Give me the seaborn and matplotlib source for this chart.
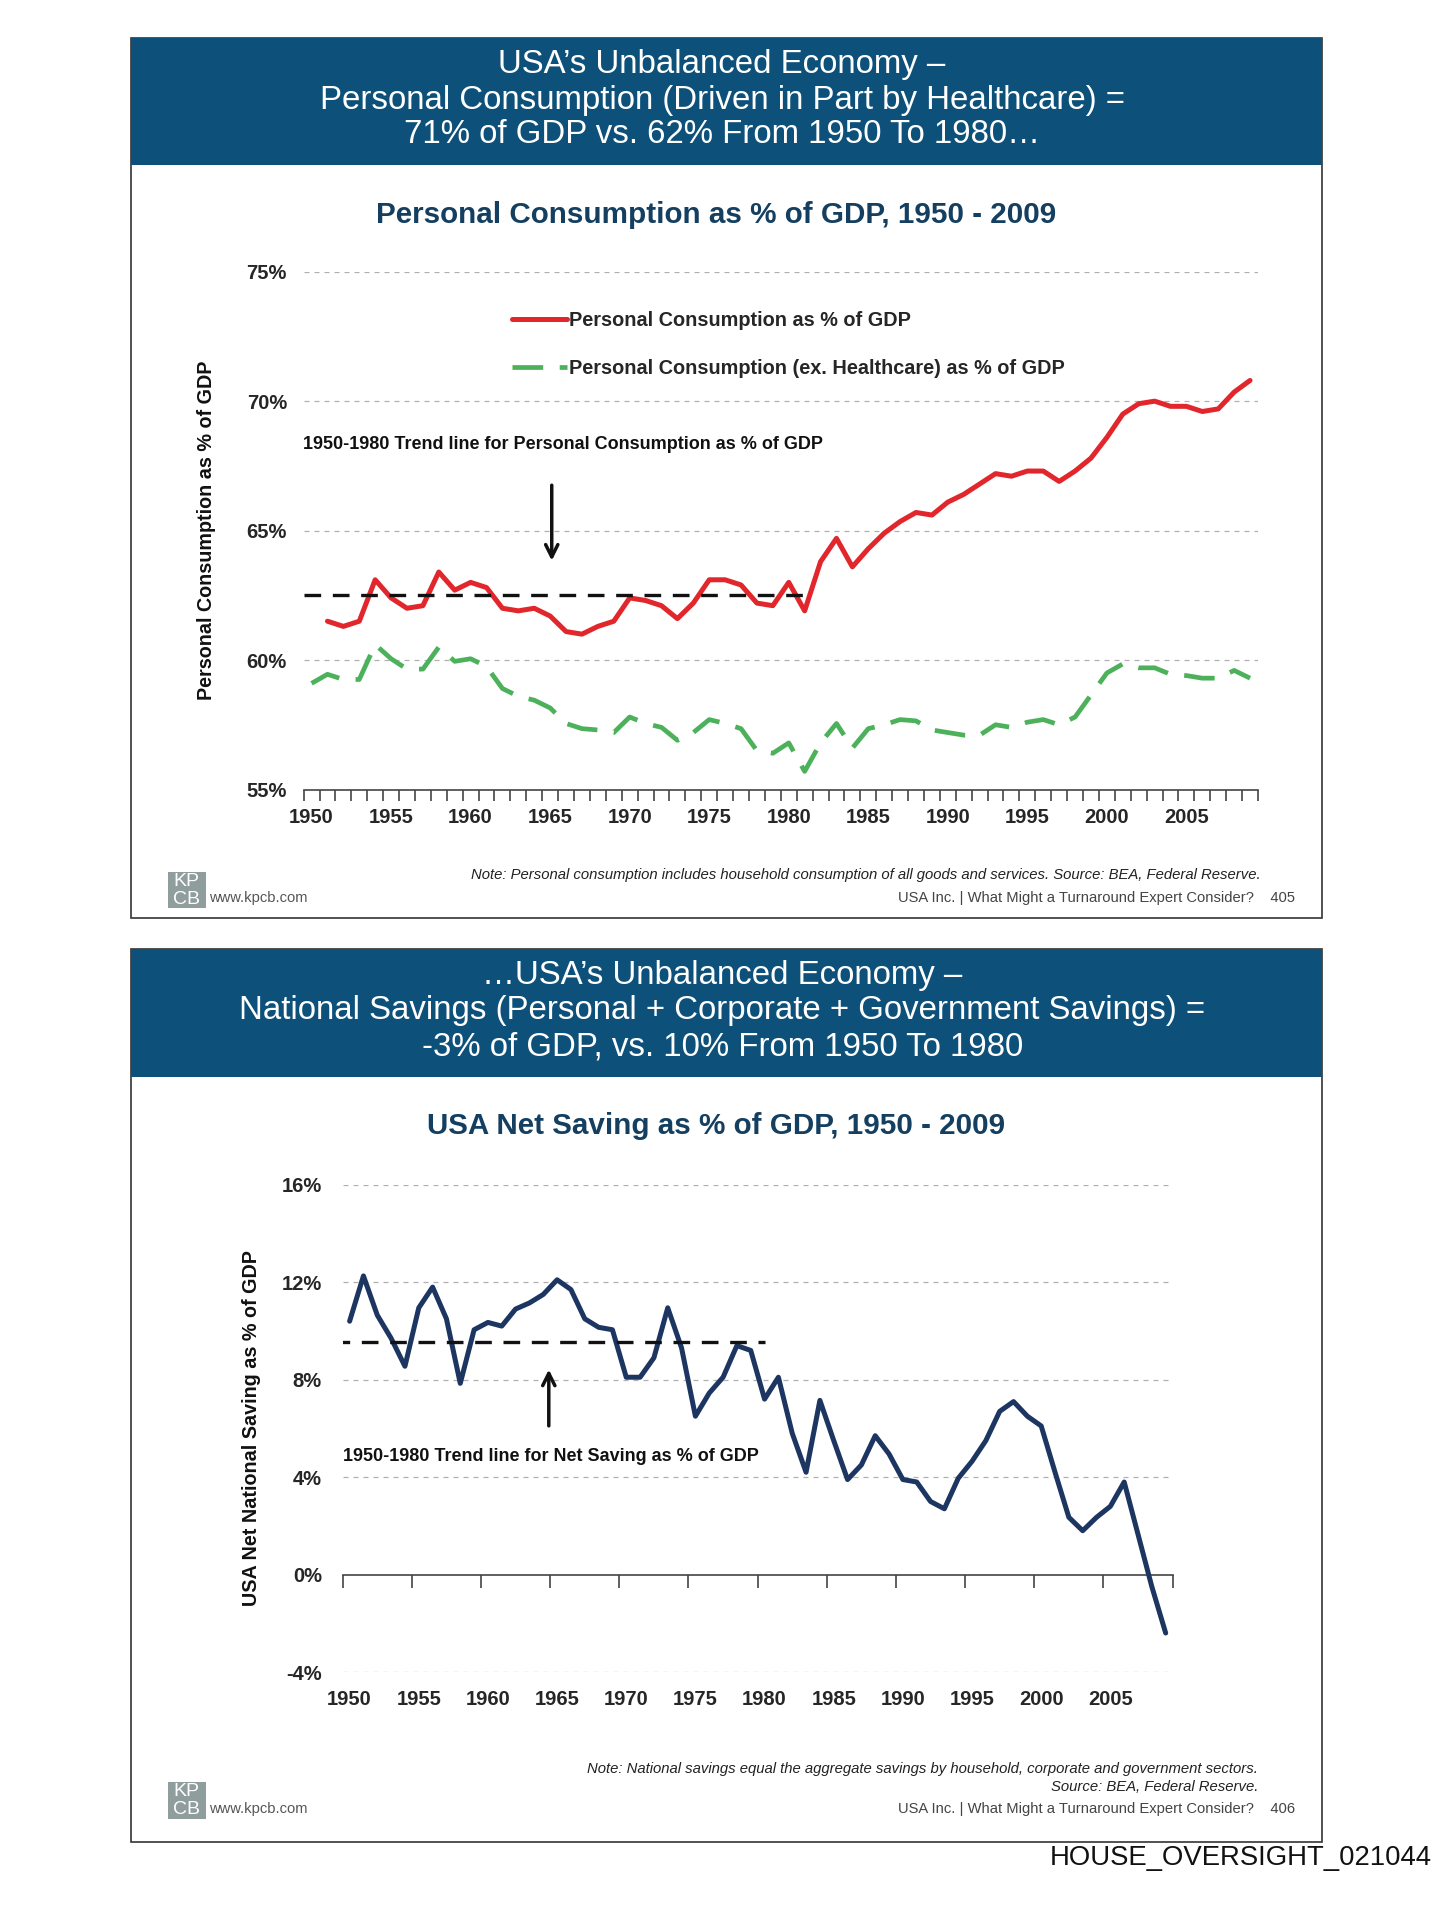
import numpy as np
import pandas as pd
import matplotlib
matplotlib.use("Agg")
import matplotlib.pyplot as plt
from matplotlib.patches import Rectangle
import seaborn as sns

# ---------------- data ----------------
years = list(range(1950, 2010))
pc_years = list(range(1951, 2010))
pc_total = [61.5, 61.3, 61.5, 63.1, 62.4, 62.0, 62.1, 63.4, 62.7,
            63.0, 62.8, 62.0, 61.9, 62.0, 61.7, 61.1, 61.0, 61.3, 61.5,
            62.4, 62.3, 62.1, 61.6, 62.2, 63.1, 63.1, 62.9, 62.2, 62.1,
            63.0, 61.9, 63.8, 64.7, 63.6, 64.3, 64.9, 65.35, 65.7, 65.6,
            66.1, 66.4, 66.8, 67.2, 67.1, 67.3, 67.3, 66.9, 67.3, 67.8,
            68.6, 69.5, 69.9, 70.0, 69.8, 69.8, 69.6, 69.7, 70.35, 70.8]
pc_ex_health = [59.1, 59.45, 59.25, 59.25, 60.6, 60.05, 59.65, 59.65, 60.5, 59.95,
                60.05, 59.75, 58.9, 58.6, 58.45, 58.15, 57.55, 57.35, 57.3, 57.2,
                57.8, 57.55, 57.4, 56.9, 57.2, 57.7, 57.55, 57.35, 56.5, 56.4,
                56.8, 55.7, 56.8, 57.55, 56.6, 57.35, 57.5, 57.7, 57.65, 57.3,
                57.2, 57.1, 57.1, 57.5, 57.4, 57.6, 57.7, 57.5, 57.8, 58.65,
                59.5, 59.85, 59.7, 59.7, 59.45, 59.4, 59.3, 59.3, 59.6, 59.3]
net_saving = [10.4, 12.26, 10.65, 9.7, 8.55, 10.95, 11.8, 10.5, 7.85, 10.05,
              10.35, 10.2, 10.9, 11.15, 11.5, 12.1, 11.7, 10.5, 10.15, 10.05,
              8.1, 8.1, 8.9, 10.95, 9.3, 6.5, 7.45, 8.1, 9.4, 9.2,
              7.2, 8.1, 5.8, 4.2, 7.15, 5.5, 3.9, 4.5, 5.7, 4.95,
              3.9, 3.8, 3.0, 2.7, 3.95, 4.65, 5.5, 6.7, 7.1, 6.5,
              6.1, 4.2, 2.35, 1.8, 2.35, 2.8, 3.8, 1.65, -0.5, -2.4]
pc_trend_value = 62.52
pc_trend_span = [1949.5, 1981.5]
ns_trend_value = 9.55
ns_trend_span = [1948.8, 1980.0]
x_label_years = [1950, 1955, 1960, 1965, 1970, 1975, 1980, 1985, 1990, 1995, 2000, 2005]
pc_yticks = [55, 60, 65, 70, 75]
ns_yticks = [-4, 0, 4, 8, 12, 16]

pc_label = "Personal Consumption as % of GDP"
pcx_label = "Personal Consumption (ex. Healthcare) as % of GDP"

df_pc = pd.DataFrame({"year": pc_years, "value": pc_total})
df_pcx = pd.DataFrame({"year": years, "value": pc_ex_health})
df_ns = pd.DataFrame({"year": years, "value": net_saving})

# ---------------- style ----------------
sns.set_theme(style="white")
plt.rcParams["font.family"] = ["Liberation Sans", "DejaVu Sans"]

BAR = "#0d507a"
TITLE_C = "#143f60"
RED = "#e1262c"
GREEN = "#4db15c"
NAVY = "#1d3561"
GRID_C = "#b0b0b0"
TICK_FS = 14.5

fig = plt.figure(figsize=(14.53, 19.2), dpi=100)
fig.patch.set_facecolor("white")

def fy(px):
    return 1 - px / 1920.0

def fx(px):
    return px / 1453.0

# panel frames and title bars
for top, bot, bar_bot in [(38, 918, 165), (949, 1842, 1077)]:
    fig.add_artist(Rectangle((fx(131), fy(bot)), fx(1322) - fx(131), fy(top) - fy(bot),
                             transform=fig.transFigure, facecolor="white",
                             edgecolor="#333333", lw=1.2, zorder=0))
    fig.add_artist(Rectangle((fx(131), fy(bar_bot)), fx(1322) - fx(131), fy(top) - fy(bar_bot),
                             transform=fig.transFigure, facecolor=BAR,
                             edgecolor="none", zorder=1))

title1 = ["USA\u2019s Unbalanced Economy \u2013",
          "Personal Consumption (Driven in Part by Healthcare) =",
          "71% of GDP vs. 62% From 1950 To 1980\u2026"]
for line, ypx in zip(title1, [64.9, 100.4, 134.6]):
    fig.text(0.497, fy(ypx), line, color="white", fontsize=23.8, ha="center", va="center")
title2 = ["\u2026USA\u2019s Unbalanced Economy \u2013",
          "National Savings (Personal + Corporate + Government Savings) =",
          "-3% of GDP, vs. 10% From 1950 To 1980"]
for line, ypx in zip(title2, [975.5, 1011, 1046.5]):
    fig.text(0.497, fy(ypx), line, color="white", fontsize=23.8, ha="center", va="center")

fig.text(0.4928, fy(215.4), "Personal Consumption as % of GDP, 1950 - 2009",
         color=TITLE_C, fontsize=21.3, fontweight="bold", ha="center", va="center")
fig.text(0.4928, fy(1126), "USA Net Saving as % of GDP, 1950 - 2009",
         color=TITLE_C, fontsize=21.3, fontweight="bold", ha="center", va="center")

# ---------------- top chart ----------------
ax1 = fig.add_axes([fx(303.6), fy(789.5), fx(1258) - fx(303.6), fy(271.7) - fy(789.5)])
sns.lineplot(data=df_pc, x="year", y="value", ax=ax1, color=RED, lw=3.6,
             label=pc_label, zorder=5)
sns.lineplot(data=df_pcx, x="year", y="value", ax=ax1, color=GREEN, lw=3.4,
             label=pcx_label, zorder=4)
ax1.lines[1].set_dashes([6.5, 3.5])
ax1.plot(pc_trend_span, [pc_trend_value, pc_trend_value], color="#111111", lw=2.4,
         dashes=[5, 3.5], zorder=6)
ax1.set_xlim(1949.5, 2009.5)
ax1.set_ylim(55, 75)
ax1.set_yticks(pc_yticks)
ax1.set_yticklabels([f"{v}%" for v in pc_yticks])
for v in pc_yticks[1:]:
    ax1.axhline(v, color=GRID_C, lw=0.9, dashes=[4, 4], zorder=1)
ax1.set_xticks(x_label_years)
ax1.set_xticks(np.arange(1949.5, 2010.0, 1.0), minor=True)
ax1.tick_params(axis="x", which="major", length=0, pad=13, labelsize=TICK_FS)
ax1.tick_params(axis="x", which="minor", length=8, width=1.2, color="#444444",
                direction="out", bottom=True)
ax1.tick_params(axis="y", length=0, pad=12, labelsize=TICK_FS)
for lab in ax1.get_xticklabels() + ax1.get_yticklabels():
    lab.set_fontweight("bold")
for s in ["top", "right", "left"]:
    ax1.spines[s].set_visible(False)
ax1.spines["bottom"].set_color("#444444")
ax1.spines["bottom"].set_linewidth(1.2)
ax1.set_xlabel("")
ax1.set_ylabel("Personal Consumption as % of GDP", fontsize=14.2, fontweight="bold",
               color="#111111")
ax1.yaxis.set_label_coords(-0.092, 0.5)
leg = ax1.legend(loc="upper left", bbox_to_anchor=(0.218, 0.925), frameon=False,
                 borderpad=0, borderaxespad=0, handlelength=2.8, handletextpad=0.1,
                 labelspacing=1.5, prop={"weight": "bold", "size": 14.3})
ax1.annotate("", xy=(1965.1, 63.73), xytext=(1965.1, 66.86),
             arrowprops=dict(arrowstyle="->", color="#111111", lw=2.5, mutation_scale=22))
ax1.text(1949.45, 68.34, "1950-1980 Trend line for Personal Consumption as % of GDP",
         fontsize=13, fontweight="bold", ha="left", va="center", color="#111111")

# ---------------- bottom chart ----------------
ax2 = fig.add_axes([fx(342.7), fy(1672), fx(1172.6) - fx(342.7), fy(1184.8) - fy(1672)])
sns.lineplot(data=df_ns, x="year", y="value", ax=ax2, color=NAVY, lw=3.6, zorder=5,
             legend=False)
ax2.plot(ns_trend_span, [ns_trend_value, ns_trend_value], color="#111111", lw=2.4,
         dashes=[5, 3.5], zorder=6)
ax2.set_xlim(1949.5, 2009.5)
ax2.set_ylim(-4, 16)
ax2.set_yticks(ns_yticks)
ax2.set_yticklabels([f"{v}%" for v in ns_yticks])
for v in ns_yticks:
    if v != 0:
        ax2.axhline(v, color=GRID_C, lw=0.9, dashes=[4, 4], zorder=1)
for s in ["top", "right", "left"]:
    ax2.spines[s].set_visible(False)
ax2.spines["bottom"].set_position(("data", 0))
ax2.spines["bottom"].set_color("#444444")
ax2.spines["bottom"].set_linewidth(1.2)
ax2.set_xticks([])
ax2.set_xticks(np.arange(1949.5, 2010.0, 5.0), minor=True)
ax2.tick_params(axis="x", which="minor", length=9, width=1.2, color="#444444",
                direction="out", bottom=True)
ax2.tick_params(axis="y", length=0, pad=15, labelsize=TICK_FS)
for lab in ax2.get_yticklabels():
    lab.set_fontweight("bold")
sec = ax2.secondary_xaxis(0.0)
sec.set_xticks(x_label_years)
sec.tick_params(length=0, pad=13, labelsize=TICK_FS)
for lab in sec.get_xticklabels():
    lab.set_fontweight("bold")
sec.spines["bottom"].set_visible(False)
ax2.set_xlabel("")
ax2.set_ylabel("USA Net National Saving as % of GDP", fontsize=14.2, fontweight="bold",
               color="#111111")
ax2.yaxis.set_label_coords(-0.099, 0.5)
ax2.annotate("", xy=(1964.4, 8.53), xytext=(1964.4, 5.99),
             arrowprops=dict(arrowstyle="->", color="#111111", lw=2.5, mutation_scale=22))
ax2.text(1949.5, 4.85, "1950-1980 Trend line for Net Saving as % of GDP",
         fontsize=13, fontweight="bold", ha="left", va="center", color="#111111")

# ---------------- footers ----------------
NOTE_FS = 10.7
fig.text(0.8677, fy(875), "Note: Personal consumption includes household consumption of all goods and services. Source: BEA, Federal Reserve.",
         fontsize=NOTE_FS, style="italic", ha="right", va="center", color="#222222")
fig.text(0.866, fy(1768.7), "Note: National savings equal the aggregate savings by household, corporate and government sectors.",
         fontsize=NOTE_FS, style="italic", ha="right", va="center", color="#222222")
fig.text(0.866, fy(1787), "Source: BEA, Federal Reserve.",
         fontsize=NOTE_FS, style="italic", ha="right", va="center", color="#222222")
for ypx, page in [(898.4, "405"), (1809, "406")]:
    fig.text(0.8913, fy(ypx), "USA Inc. | What Might a Turnaround Expert Consider?    " + page,
             fontsize=10.6, ha="right", va="center", color="#444444")
    fig.text(0.144, fy(ypx), "www.kpcb.com", fontsize=10.6, ha="left", va="center",
             color="#555555")
for top_px in [871.5, 1782]:
    fig.add_artist(Rectangle((fx(167.7), fy(top_px + 36.7)), fx(37.9), 36.7 / 1920.0,
                             transform=fig.transFigure, facecolor="#8f9d9c",
                             edgecolor="none", zorder=2))
    fig.text(fx(186.6), fy(top_px + 9.5), "KP", color="white", fontsize=14,
             ha="center", va="center", zorder=3)
    fig.text(fx(186.6), fy(top_px + 27.5), "CB", color="white", fontsize=14,
             ha="center", va="center", zorder=3)

fig.text(0.9857, fy(1858), "HOUSE_OVERSIGHT_021044", fontsize=19.8, ha="right",
         va="center", color="#111111")

fig.savefig("out.png", dpi=100)
